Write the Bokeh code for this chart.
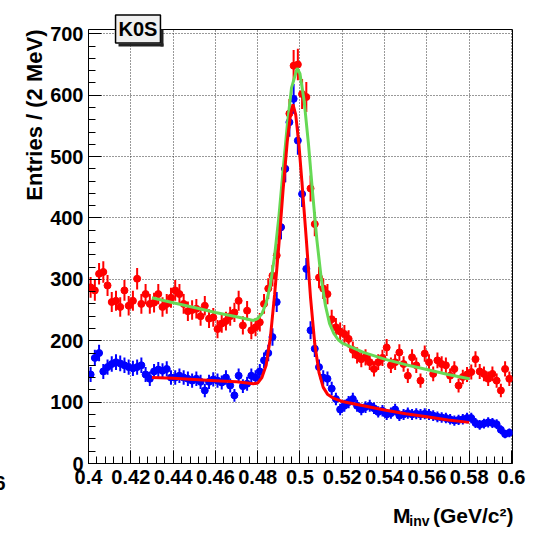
import numpy as np
from bokeh.plotting import figure
from bokeh.models import (Range1d, SingleIntervalTicker, CustomJSTickFormatter,
                          Label, BoxAnnotation, ColumnDataSource, Title)
from bokeh.embed import file_html
from bokeh.resources import INLINE

# ---------------- data ----------------
bin_lo = 0.4
bin_width = 0.002  # 2 MeV bins

counts_blue = [145, 172, 180, 150, 157, 162, 165, 163, 160, 157, 155, 157, 160, 145, 138, 150, 153, 151, 154, 140, 140, 143,
               140, 138, 135, 138, 133, 119, 133, 137, 135, 132, 140, 127, 111, 143, 126, 130,
               143, 140, 150, 168, 180, 206, 263,
               385, 480, 556, 594, 526, 439, 317,
               217, 187, 157, 140, 138, 122,
               105, 88, 94, 100, 105, 94, 88, 92, 94, 90, 84, 86, 80, 82, 88, 78, 80, 82,
               80, 81, 80, 81, 80, 78, 76, 75, 74, 72, 70, 71, 72, 74, 74, 66, 63, 65, 67, 66, 64, 55, 48, 50]

counts_red = [287, 282, 309, 312, 290, 263, 265, 255, 282, 257, 265, 301, 260, 276, 260, 262, 276, 255, 260, 270, 282, 276, 260,
              248, 250, 252, 240, 257, 236, 238, 219, 228, 232, 240, 246, 265, 225, 249, 217, 222, 230, 260, 285, 306, 339,
              385, 480, 570, 648, 650, 602, 597, 448, 390, 303,
              285, 276, 235, 222, 215, 211, 203, 185, 176, 170, 173, 165, 154, 165, 172, 189, 160, 165, 181, 162,
              143, 173, 160, 135, 179, 165, 146, 168, 162, 160, 143, 154, 127, 141, 145, 149, 170, 150, 146, 138,
              146, 135, 119, 154, 138]

fit_green_x = [0.430, 0.440, 0.450, 0.460, 0.470, 0.478, 0.480, 0.482, 0.484, 0.486, 0.488, 0.490, 0.492, 0.494,
               0.496, 0.4987, 0.500, 0.502, 0.504, 0.506, 0.508, 0.510, 0.512, 0.514, 0.516, 0.518, 0.520,
               0.530, 0.540, 0.550, 0.560, 0.570, 0.580]
fit_green_y = [270, 262, 254, 246, 239, 233, 236, 244, 261, 291, 338, 401, 477, 551,
               612, 644, 635, 590, 521, 440, 364, 303, 258, 228, 212, 202, 196,
               181, 170, 161, 153, 145, 138]

fit_red_x = [0.430, 0.440, 0.450, 0.460, 0.470, 0.478, 0.480, 0.482, 0.484, 0.486, 0.488, 0.490, 0.492, 0.494,
             0.4955, 0.4967, 0.498, 0.4995, 0.501, 0.503, 0.505, 0.507, 0.509, 0.511, 0.513, 0.516, 0.520,
             0.530, 0.540, 0.550, 0.560, 0.570, 0.580]
fit_red_y = [140, 139, 137, 135, 133, 130, 131, 140, 160, 205, 275, 355, 445, 525,
             568, 585, 568, 520, 455, 365, 270, 195, 148, 124, 113, 106, 101,
             94, 87, 81, 76, 71, 67]

label_text = "K0S"
y_title = "Entries / (2 MeV)"
x_title_main = "M"
x_title_sub = "inv"
x_title_unit = "(GeV/c\u00b2)"
edge_fragment = "6"

# ---------------- figure ----------------
X0, X1 = 0.4, 0.6005
Y0, Y1 = 0.0, 707.0
W, H = 533, 534
ML, MR, MT, MB = 88, 21, 29, 71
FW, FH = W - ML - MR, H - MT - MB

def dx(px):
    return X0 + (px - ML) * (X1 - X0) / FW

def dy(py):
    return Y0 + (MT + FH - py) * (Y1 - Y0) / FH

FONT = "Liberation Sans"

p = figure(width=W, height=H, x_range=Range1d(X0, X1), y_range=Range1d(Y0, Y1),
           output_backend="svg", toolbar_location=None,
           min_border_left=ML, min_border_right=MR, min_border_top=MT, min_border_bottom=MB)
p.background_fill_color = "white"
p.border_fill_color = "white"
p.outline_line_color = "black"
p.outline_line_width = 1

xt = SingleIntervalTicker(interval=0.02, num_minor_ticks=5)
yt = SingleIntervalTicker(interval=100, num_minor_ticks=5)
p.xaxis.ticker = xt
p.yaxis.ticker = yt
p.xgrid.ticker = xt
p.ygrid.ticker = yt
p.xaxis.formatter = CustomJSTickFormatter(code="return tick.toFixed(2).replace(/0$/, '');")

for ax in (p.xaxis[0], p.yaxis[0]):
    ax.major_tick_in = 13
    ax.major_tick_out = 0
    ax.minor_tick_in = 7
    ax.minor_tick_out = 0
    ax.axis_line_color = "black"
    ax.major_tick_line_color = "black"
    ax.minor_tick_line_color = "black"
    ax.major_label_text_font = FONT
    ax.major_label_text_font_style = "bold"
    ax.major_label_text_font_size = "20px"
    ax.major_label_text_color = "black"
p.xaxis.major_label_standoff = 6
p.yaxis.major_label_standoff = 5

for g in (p.xgrid[0], p.ygrid[0]):
    g.grid_line_color = "#333333"
    g.grid_line_dash = "1 2"
    g.grid_line_width = 1

xc = bin_lo + bin_width * (np.arange(len(counts_blue)) + 0.5)
blue = np.array(counts_blue, dtype=float)
red = np.array(counts_red, dtype=float)

src_r = ColumnDataSource(dict(x=xc, y=red, lo=red - np.sqrt(red), hi=red + np.sqrt(red)))
src_b = ColumnDataSource(dict(x=xc, y=blue, lo=blue - np.sqrt(blue), hi=blue + np.sqrt(blue)))

p.segment(x0="x", y0="lo", x1="x", y1="hi", source=src_r, line_color="#ff0000", line_width=2)
p.scatter("x", "y", source=src_r, size=7, marker="circle", fill_color="#ff0000", line_color="#ff0000")
p.segment(x0="x", y0="lo", x1="x", y1="hi", source=src_b, line_color="#0000ff", line_width=2)
p.scatter("x", "y", source=src_b, size=7, marker="circle", fill_color="#0000ff", line_color="#0000ff")

p.line(fit_green_x, fit_green_y, line_color="#66d955", line_width=3)
p.line(fit_red_x, fit_red_y, line_color="#ff0000", line_width=3)

# ---------------- annotations ----------------
# shadow strips of the label box (inside the frame)
p.add_layout(BoxAnnotation(left=dx(160), right=dx(163), top=dy(18), bottom=dy(46),
                           fill_color="#222222", fill_alpha=1, line_color=None))
p.add_layout(BoxAnnotation(left=dx(118), right=dx(163), top=dy(43), bottom=dy(46),
                           fill_color="#222222", fill_alpha=1, line_color=None))

# label box (side panel -> not clipped to the frame)
p.add_layout(Label(x=dx(137.5), y=dy(28.5), text=label_text, text_align="center", text_baseline="middle",
                   text_font=FONT, text_font_style="bold", text_font_size="20px", text_color="black",
                   background_fill_color="#f0f0f0", background_fill_alpha=1.0,
                   border_line_color="black", border_line_width=1.5, padding=3), "above")

# y title
p.add_layout(Title(text=y_title, align="right", offset=0, standoff=1, text_color="black",
                   text_font=FONT, text_font_style="bold", text_font_size="22px"), "left")

# x title pieces
p.add_layout(Label(x=dx(513), y=dy(515), text=x_title_unit, text_align="right", text_baseline="alphabetic",
                   text_font=FONT, text_font_style="bold", text_font_size="21px", text_color="black"), "below")
p.add_layout(Label(x=dx(429), y=dy(520), text=x_title_sub, text_align="right", text_baseline="alphabetic",
                   text_font=FONT, text_font_style="bold", text_font_size="14px", text_color="black"), "below")
p.add_layout(Label(x=dx(410), y=dy(515), text=x_title_main, text_align="right", text_baseline="alphabetic",
                   text_font=FONT, text_font_style="bold", text_font_size="21px", text_color="black"), "right")

p.add_layout(Label(x=dx(5), y=dy(482), text=edge_fragment, text_align="right", text_baseline="alphabetic",
                   text_font=FONT, text_font_style="bold", text_font_size="20px", text_color="black"), "left")

open("out.html", "w").write(file_html(p, INLINE))
